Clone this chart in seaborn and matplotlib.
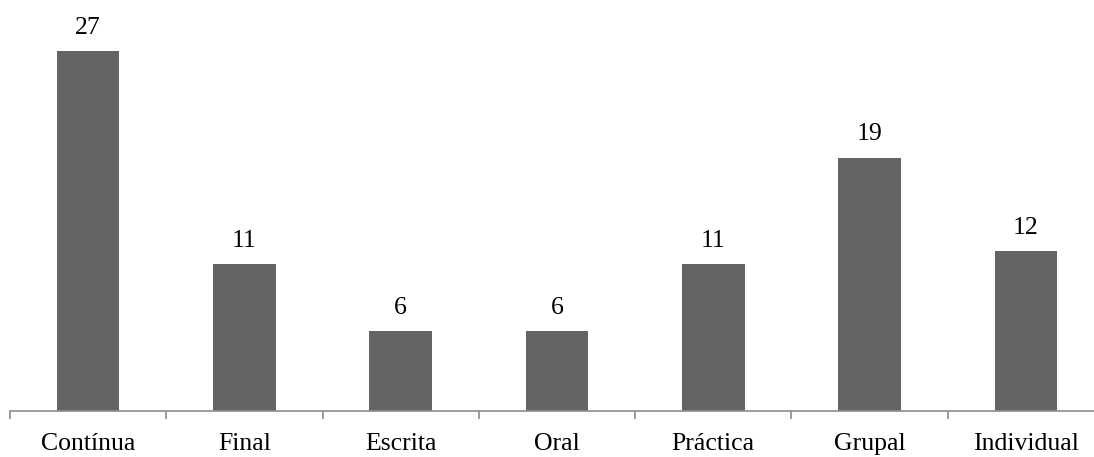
import matplotlib
matplotlib.use("Agg")
import matplotlib.pyplot as plt
import seaborn as sns
import pandas as pd
import numpy as np

# data
categories = ['Contínua', 'Final', 'Escrita', 'Oral', 'Práctica', 'Grupal', 'Individual']
values = [27, 11, 6, 6, 11, 19, 12]

df = pd.DataFrame({'tipo': categories, 'n': values})

sns.set_style('white')
plt.rcParams['font.family'] = ['Liberation Serif', 'DejaVu Serif']
plt.rcParams['text.color'] = 'black'

fig = plt.figure(figsize=(10.94, 4.57), dpi=100)
# axis runs past the right edge, as in the original
ax = fig.add_axes([10 / 1094, 46 / 457, 1094 / 1094, 400 / 457])

sns.barplot(data=df, x='tipo', y='n', color='#646464', width=0.4,
            saturation=1, linewidth=0, ax=ax)

ax.set_ylim(0, 30)
ax.set_xlim(-0.5, 6.5)
ax.set_xlabel('')
ax.set_ylabel('')
ax.set_yticks([])

for s in ['top', 'right', 'left']:
    ax.spines[s].set_visible(False)
ax.spines['bottom'].set_color('#8c8c8c')
ax.spines['bottom'].set_linewidth(1.2)

# labels at centres, tick marks at category boundaries
ax.set_xticks(range(len(categories)))
ax.set_xticklabels(categories, fontsize=18.5, color='black')
ax.tick_params(axis='x', which='major', length=0, pad=16)
ax.set_xticks(np.arange(-0.5, len(categories) - 0.4, 1), minor=True)
ax.tick_params(axis='x', which='minor', length=6, width=1.2,
               color='#8c8c8c', direction='out', bottom=True)

for i, v in enumerate(values):
    ax.annotate(str(v), (i, v), xytext=(0, 9), textcoords='offset points',
                ha='center', va='bottom', fontsize=18.5, color='black')

fig.savefig('out.png', dpi=100)
